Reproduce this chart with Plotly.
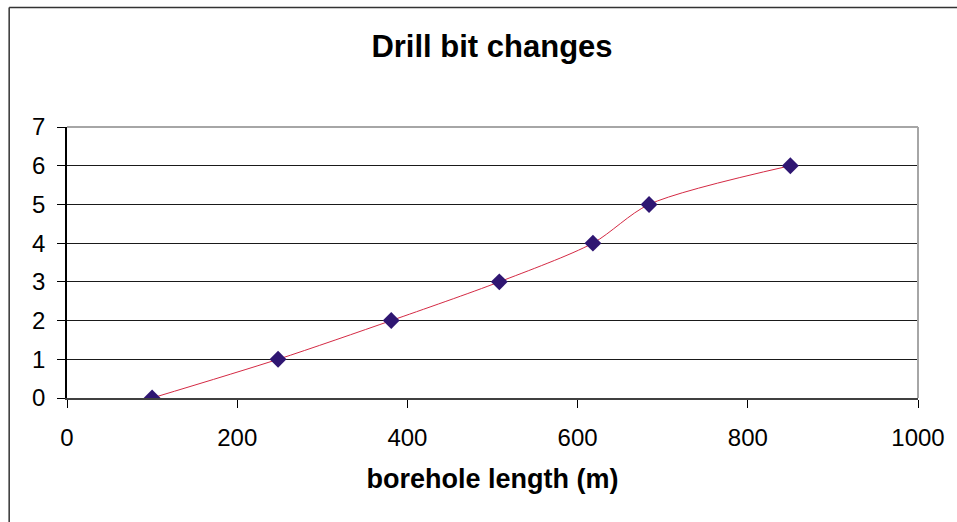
import plotly.graph_objects as go

# Borehole length (m) at which each drill bit change happened
borehole_length = [100, 248, 381, 508, 618, 684, 850]
bit_changes = [0, 1, 2, 3, 4, 5, 6]

x_ticks = [0, 200, 400, 600, 800, 1000]
y_ticks = [0, 1, 2, 3, 4, 5, 6, 7]

W, H = 957, 522
L, R, T, B = 66.5, 37, 127, 124
pw, ph = W - L - R, H - T - B


def px_x(p):
    return (p - L) / pw


def px_y(p):
    return (H - B - p) / ph


fig = go.Figure()
fig.add_trace(go.Scatter(
    x=borehole_length,
    y=bit_changes,
    mode="lines+markers",
    line=dict(color="#d42a44", width=1, shape="spline", smoothing=0.8),
    marker=dict(symbol="diamond", size=13, color="#2f1672",
                line=dict(width=0)),
    showlegend=False,
    hoverinfo="x+y",
))

font = "Liberation Sans, Arial, sans-serif"

fig.update_layout(
    width=W, height=H,
    margin=dict(l=L, r=R, t=T, b=B),
    paper_bgcolor="white",
    plot_bgcolor="white",
    font=dict(family=font, color="#000000", size=24),
    title=dict(
        text="<b>Drill bit changes</b>",
        font=dict(family=font, size=31, color="#000000"),
        xref="container", x=492 / W, xanchor="center",
        y=1 - 46 / H, yanchor="middle",
    ),
    xaxis=dict(
        range=[0, 1000],
        tickvals=x_ticks,
        ticks="outside", ticklen=8, tickwidth=1, tickcolor="#000000",
        showgrid=False, zeroline=False,
        showline=True, linecolor="#404040", linewidth=1.5,
        ticklabelstandoff=9,
        tickfont=dict(size=24),
        title=dict(text="<b>borehole length (m)</b>",
                   font=dict(size=27), standoff=20),
    ),
    yaxis=dict(
        range=[0, 7],
        tickvals=y_ticks,
        ticks="outside", ticklen=8, tickwidth=1, tickcolor="#000000",
        showgrid=True, gridcolor="#1a1a1a", gridwidth=1,
        zeroline=False,
        showline=True, linecolor="#000000", linewidth=1.5,
        ticklabelstandoff=7,
        tickfont=dict(size=24),
    ),
    shapes=[
        # gray frame on the top and right of the plot area
        dict(type="line", xref="paper", yref="paper", x0=0, x1=1, y0=1, y1=1,
             line=dict(color="#a6a6a6", width=2)),
        dict(type="line", xref="paper", yref="paper", x0=1, x1=1, y0=0, y1=1,
             line=dict(color="#a6a6a6", width=2)),
        # outer chart border (left and top edges)
        dict(type="line", xref="paper", yref="paper",
             x0=px_x(8.5), x1=px_x(8.5), y0=px_y(7.5), y1=px_y(540),
             line=dict(color="#333333", width=1.5)),
        dict(type="line", xref="paper", yref="paper",
             x0=px_x(8.5), x1=px_x(980), y0=px_y(7.5), y1=px_y(7.5),
             line=dict(color="#333333", width=1.5)),
    ],
)

fig.write_html("out.html")
